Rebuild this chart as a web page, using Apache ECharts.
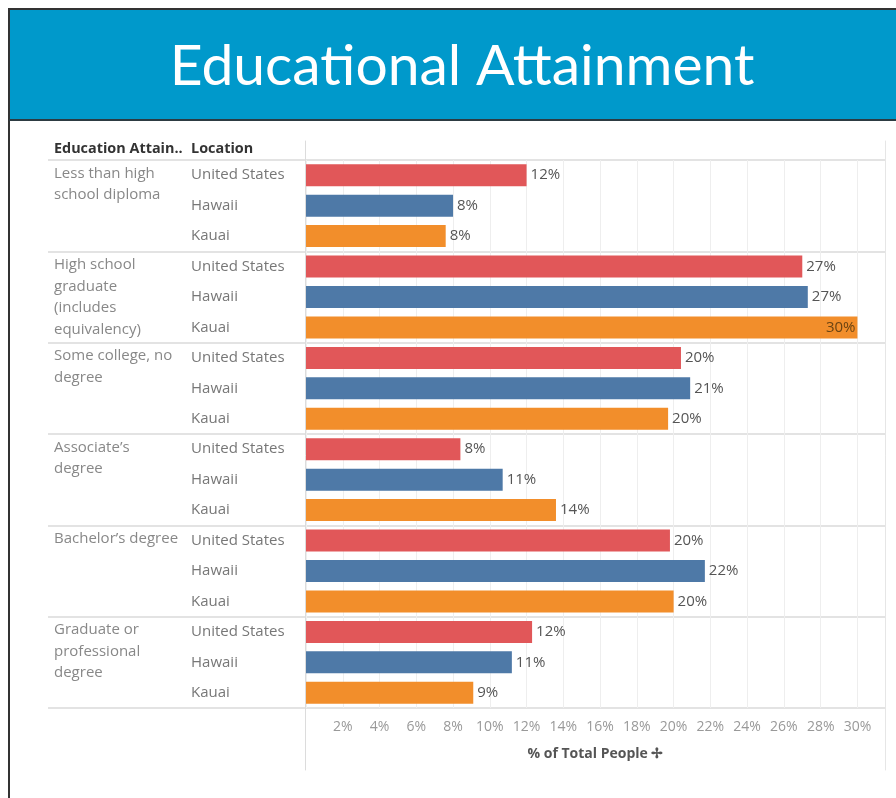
<!DOCTYPE html>
<html>
<head>
<meta charset="utf-8">
<title>Educational Attainment</title>
<script src="https://cdn.jsdelivr.net/npm/echarts@6/dist/echarts.min.js"></script>
<style>
  html, body { margin: 0; padding: 0; background: #fff; }
  #chart { width: 896px; height: 798px; }
</style>
</head>
<body>
<div id="chart"></div>
<script>
// education levels (rows of the table) and how they wrap in the first column
const groups = [
  'Less than high school diploma',
  'High school graduate (includes equivalency)',
  'Some college, no degree',
  'Associate’s degree',
  'Bachelor’s degree',
  'Graduate or professional degree'
]
const groupLabels = [
  'Less than high\nschool diploma',
  'High school\ngraduate\n(includes\nequivalency)',
  'Some college, no\ndegree',
  'Associate’s\ndegree',
  'Bachelor’s degree',
  'Graduate or\nprofessional\ndegree'
]
const locations = ['United States', 'Hawaii', 'Kauai']

// % of total people, same order as groups
const usValues = [12.0, 27.0, 20.4, 8.4, 19.8, 12.3]
const hawaiiValues = [8.0, 27.3, 20.9, 10.7, 21.7, 11.2]
const kauaiValues = [7.6, 30.0, 19.7, 13.6, 20.0, 9.1]

const xMax = 31.5
const xStep = 2

const locationValues = [usValues, hawaiiValues, kauaiValues]
const locationColors = ['#e15759', '#4e79a7', '#f28e2b']

// one row per (group, location)
const rows = []
const barData = []
groups.forEach((g, gi) => {
  locations.forEach((loc, li) => {
    const v = locationValues[li][gi]
    rows.push(gi + '|' + loc)
    const item = { value: v, itemStyle: { color: locationColors[li] } }
    // no room on the right of the longest bar: label goes inside
    if (v > xMax - 2) {
      item.label = { position: 'insideRight', color: '#6b4413', distance: 2 }
    }
    barData.push(item)
  })
})

const labelFont = '"Open Sans", "Noto Sans", sans-serif'

const chart = echarts.init(document.getElementById('chart'))

const option = {
  animation: false,
  backgroundColor: '#fff',
  textStyle: { fontFamily: labelFont },
  title: [
    {
      text: 'Education Attain..',
      left: 54,
      top: 142,
      padding: 0,
      textStyle: { fontSize: 14.4, fontWeight: 'bold', color: '#333', fontFamily: labelFont }
    },
    {
      text: 'Location',
      left: 191,
      top: 142,
      padding: 0,
      textStyle: { fontSize: 14.4, fontWeight: 'bold', color: '#333', fontFamily: labelFont }
    }
  ],
  // header band + frame
  graphic: [
    { type: 'rect', shape: { x: 9, y: 9, width: 887, height: 110 }, style: { fill: '#0099cb' } },
    { type: 'line', shape: { x1: 9, y1: 9, x2: 896, y2: 9 }, style: { stroke: '#333', lineWidth: 2 } },
    { type: 'line', shape: { x1: 9, y1: 8, x2: 9, y2: 798 }, style: { stroke: '#333', lineWidth: 2 } },
    { type: 'line', shape: { x1: 9, y1: 120, x2: 896, y2: 120 }, style: { stroke: '#2d3b42', lineWidth: 2 } },
    {
      type: 'text',
      x: 462,
      y: 67,
      style: {
        text: 'Educational Attainment',
        fill: '#fff',
        font: '57px Lato, "Open Sans", sans-serif',
        textAlign: 'center',
        textVerticalAlign: 'middle'
      }
    }
  ],
  grid: [
    // bars
    { left: 306, right: 11, top: 160, bottom: 90 },
    // table rows (group labels + separators)
    { left: 48, right: 11, top: 160, bottom: 90 },
    // column borders
    { left: 305, right: 11, top: 141, bottom: 28 }
  ],
  xAxis: [
    {
      gridIndex: 0,
      type: 'value',
      min: 0,
      max: xMax,
      interval: xStep,
      name: '% of Total People ✢',
      nameLocation: 'middle',
      nameGap: 39,
      nameTextStyle: { fontSize: 14, color: '#555', fontWeight: 'bold' },
      axisLine: { show: false },
      axisTick: { show: false },
      axisLabel: {
        fontSize: 14,
        color: '#999',
        margin: 12,
        formatter: (v) => (v > 0 && v % xStep === 0 ? v + '%' : '')
      },
      splitLine: { show: true, lineStyle: { color: '#eeeeee', width: 1 } }
    },
    { gridIndex: 1, type: 'value', show: false },
    { gridIndex: 2, type: 'value', min: 0, max: 1, show: false }
  ],
  yAxis: [
    {
      gridIndex: 0,
      type: 'category',
      data: rows,
      inverse: true,
      axisLine: { show: false },
      axisTick: { show: false },
      axisLabel: {
        align: 'left',
        margin: 115,
        fontSize: 15,
        color: '#777',
        formatter: (v) => v.split('|')[1]
      }
    },
    {
      gridIndex: 1,
      type: 'category',
      data: groups,
      inverse: true,
      axisLine: { show: false },
      axisTick: { show: false },
      splitLine: { show: true, lineStyle: { color: '#e3e3e3', width: 2 } },
      axisLabel: {
        inside: true,
        margin: 6,
        fontSize: 15,
        color: '#888',
        lineHeight: 21.5,
        // pad every label to four lines so the first line sits on the top row
        formatter: (v, i) => {
          const lines = groupLabels[i].split('\n')
          while (lines.length < 4) lines.push(' ')
          return lines.join('\n')
        }
      }
    },
    {
      gridIndex: 2,
      type: 'value',
      position: 'left',
      axisLine: { show: true, onZero: false, lineStyle: { color: '#dcdcdc' } },
      axisTick: { show: false },
      axisLabel: { show: false },
      splitLine: { show: false }
    },
    {
      gridIndex: 2,
      type: 'value',
      position: 'right',
      axisLine: { show: true, onZero: false, lineStyle: { color: '#e6e6e6' } },
      axisTick: { show: false },
      axisLabel: { show: false },
      splitLine: { show: false }
    }
  ],
  series: [
    {
      type: 'bar',
      xAxisIndex: 0,
      yAxisIndex: 0,
      data: barData,
      barWidth: 22,
      label: {
        show: true,
        position: 'right',
        distance: 4,
        fontSize: 15,
        color: '#555',
        formatter: (p) => Math.round(p.value) + '%'
      }
    }
  ]
}

chart.setOption(option)
</script>
</body>
</html>
